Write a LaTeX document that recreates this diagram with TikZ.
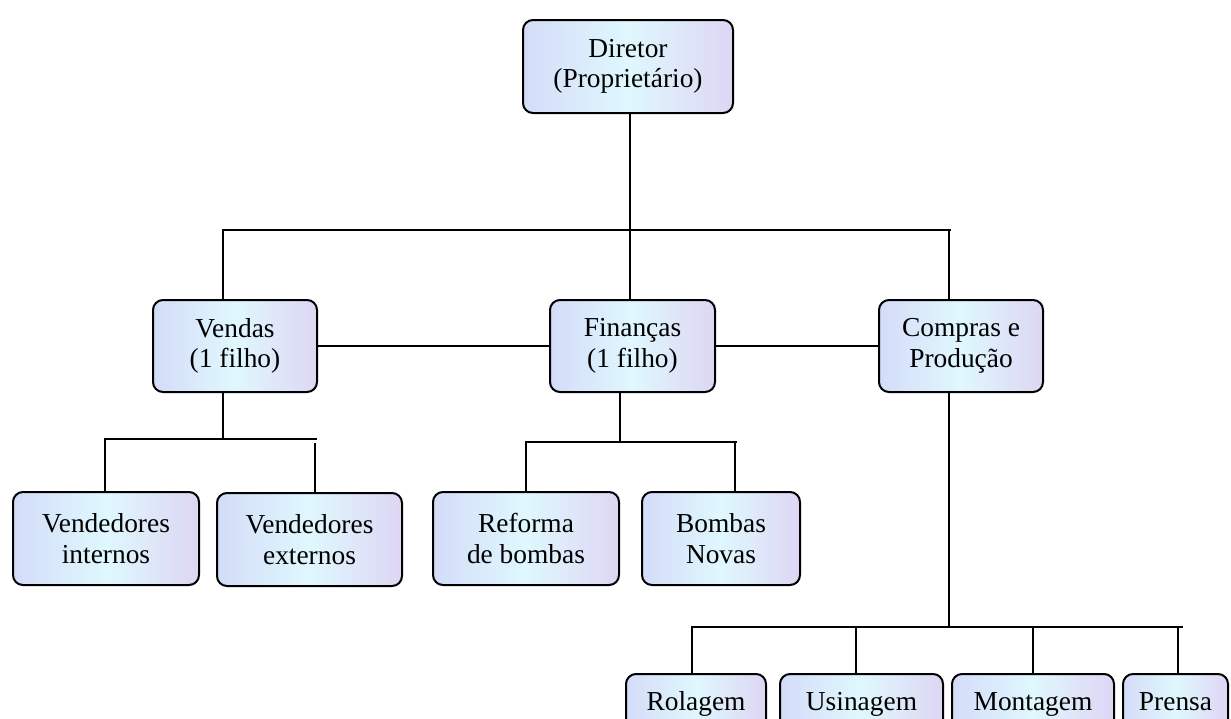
\documentclass[tikz,border=0pt]{standalone}
\usepackage{fontspec}
\setmainfont{Liberation Serif}
\definecolor{boxfill}{RGB}{212,220,248}
\definecolor{boxfillB}{RGB}{222,214,244}
\begin{document}
\begin{tikzpicture}[x=0.5pt,y=-0.5pt,
  box/.style={draw=black,line width=1pt,rounded corners=5pt,
    left color=boxfill,right color=boxfillB,middle color=boxfill!70!cyan!30!white,
    inner sep=0pt,align=center,font=\fontsize{13.7}{15.2}\selectfont},
  txt/.style={inner sep=0pt,font=\fontsize{13.7}{15.2}\selectfont},
  conn/.style={draw=black,line width=0.8pt}]
\useasboundingbox (0,0) rectangle (1231,718);
\clip (0,0) rectangle (1231,718);
\fill[white] (0,0) rectangle (1231,718);
% level 0
\node[box,minimum width=105pt,minimum height=46.5pt] (dir) at (628,66.5) {Diretor\\(Proprietário)};
% level 1
\node[box,minimum width=82pt,minimum height=46pt] (ven) at (235,346) {Vendas\\(1 filho)};
\node[box,minimum width=82.5pt,minimum height=46pt] (fin) at (632.5,346) {Finanças\\(1 filho)};
\node[box,minimum width=82pt,minimum height=46pt] (com) at (961,346) {Compras e\\Produção};
% level 2
\node[box,minimum width=93pt,minimum height=46.5pt] (vi) at (106,538.5) {Vendedores\\internos};
\node[box,minimum width=92.5pt,minimum height=46.5pt] (ve) at (309.5,539.5) {Vendedores\\externos};
\node[box,minimum width=93pt,minimum height=46.5pt] (ref) at (526,538.5) {Reforma\\de bombas};
\node[box,minimum width=79pt,minimum height=46.5pt] (bom) at (721,538.5) {Bombas\\Novas};
% level 3 (cut by the page edge)
\node[box,minimum width=70pt,minimum height=46.5pt,anchor=north] (rol) at (696,673) {};
\node[box,minimum width=81.5pt,minimum height=46.5pt,anchor=north] (usi) at (861.5,673) {};
\node[box,minimum width=81pt,minimum height=46.5pt,anchor=north] (mon) at (1033,673) {};
\node[box,minimum width=52.5pt,minimum height=46.5pt,anchor=north] (pre) at (1175.5,673) {};
\node[txt,anchor=base] (trol) at ([yshift=-18.5pt]rol.north) {Rolagem};
\node[txt,anchor=base] (tusi) at ([yshift=-18.5pt]usi.north) {Usinagem};
\node[txt,anchor=base] (tmon) at ([yshift=-18.5pt]mon.north) {Montagem};
\node[txt,anchor=base] (tpre) at ([yshift=-18.5pt]pre.north) {Prensa};
% junction coordinates
\coordinate (t0) at (630,113);
\coordinate (tL) at (223,230);
\coordinate (tR) at (951,230);
\coordinate (vC) at (223,439);
\coordinate (vL) at (105,439);
\coordinate (vR) at (317,439);
\coordinate (fC) at (620,442);
\coordinate (fL) at (526,442);
\coordinate (fR) at (737,442);
\coordinate (cC) at (949,627);
\coordinate (cL) at (692,627);
\coordinate (cR) at (1183,627);
% connectors
\draw[conn] (t0) -- (fin.north -| t0);
\draw[conn] (ven.north -| tL) -- (tL) -- (tR);
\draw[conn] (com.north -| cC) -- (cC |- tR);
\draw[conn] (ven.east) -- (fin.west);
\draw[conn] (fin.east) -- (com.west);
% Vendas
\draw[conn] (ven.south -| vC) -- (vC);
\draw[conn] (vi.north -| vL) -- (vL) -- (vR);
\draw[conn] (ve.north -| 315,0) -- (315,443);
% Financas
\draw[conn] (fin.south -| fC) -- (fC);
\draw[conn] (ref.north -| fL) -- (fL) -- (fR);
\draw[conn] (bom.north -| 735,0) -- (735,442);
% Compras
\draw[conn] (com.south -| cC) -- (cC);
\draw[conn] (rol.north -| cL) -- (cL) -- (cR);
\draw[conn] (usi.north -| 856,0) -- (856,627);
\draw[conn] (mon.north -| 1033,0) -- (1033,627);
\draw[conn] (pre.north -| 1178,0) -- (1178,627);
\end{tikzpicture}
\end{document}
